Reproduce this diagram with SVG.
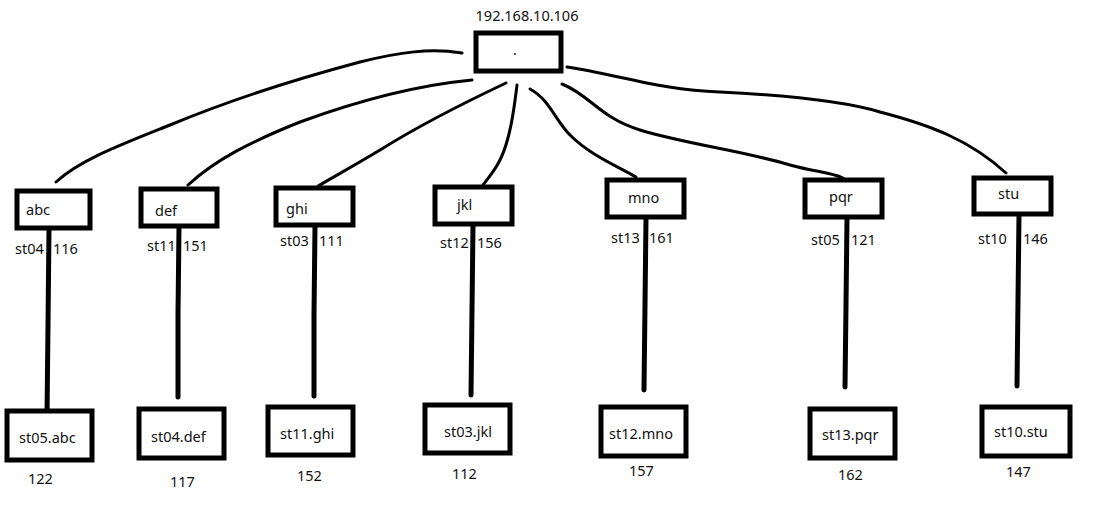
<svg xmlns="http://www.w3.org/2000/svg" width="1102" height="513" viewBox="0 0 1102 513">
<style>
.box{fill:#fff;stroke:#000;stroke-width:5}
.t{font-family:"Noto Sans","Open Sans",sans-serif;font-size:14.5px;fill:#111}
.c{fill:none;stroke:#000;stroke-width:3;stroke-linecap:round;stroke-linejoin:round}
.v{fill:none;stroke:#000;stroke-width:5;stroke-linecap:round}
</style>
<rect width="1102" height="513" fill="#fff"/>
<g id="connectors">
<path class="c" d="M462,53 C430,48 400,52 360,62 C300,78 230,100 170,125 C120,145 80,160 56,182"/>
<path class="c" d="M472,80 C420,85 360,100 300,122 C250,142 215,160 188,185"/>
<path class="c" d="M506,83 C470,100 420,125 380,150 C350,168 335,176 318,186"/>
<path class="c" d="M517,85 C514,110 510,140 500,160 C494,172 488,178 483,185"/>
<path class="c" d="M530,89 C550,100 555,120 570,135 C590,155 615,165 636,177"/>
<path class="c" d="M562,84 C590,95 600,118 640,130 C690,145 740,150 790,165 C815,172 830,172 843,178"/>
<path class="c" d="M567,67 C620,75 660,90 720,92 C780,95 840,100 880,112 C930,125 970,140 1006,173"/>
<path class="v" d="M49,229 L48,325 L47,416"/>
<path class="v" d="M179,227 L178,315 L178,397"/>
<path class="v" d="M315,226 L314,315 L314,396"/>
<path class="v" d="M473,225 L472,310 L471,395"/>
<path class="v" d="M646,218 L645,305 L644,390"/>
<path class="v" d="M847,218 L846,305 L845,387"/>
<path class="v" d="M1019,215 L1018,300 L1017,386"/>
</g>
<g id="root">
<text class="t" x="527" y="21" text-anchor="middle">192.168.10.106</text>
<rect class="box" x="476" y="33" width="85" height="38"/>
<text class="t" x="513" y="55">.</text>
</g>
<g id="abc"><rect class="box" x="17" y="191" width="73" height="37"/><text class="t" x="26" y="215">abc</text></g>
<g id="def"><rect class="box" x="141" y="189" width="76" height="37"/><text class="t" x="155" y="216">def</text></g>
<g id="ghi"><rect class="box" x="276" y="188" width="77" height="37"/><text class="t" x="286" y="214">ghi</text></g>
<g id="jkl"><rect class="box" x="435" y="187" width="77" height="37"/><text class="t" x="457" y="210">jkl</text></g>
<g id="mno"><rect class="box" x="607" y="180" width="77" height="37"/><text class="t" x="628" y="203">mno</text></g>
<g id="pqr"><rect class="box" x="805" y="180" width="77" height="37"/><text class="t" x="829" y="202">pqr</text></g>
<g id="stu"><rect class="box" x="974" y="178" width="77" height="36"/><text class="t" x="998" y="199">stu</text></g>
<g id="lbl-mid">
<text class="t" x="15" y="254">st04</text><text class="t" x="53" y="254">116</text>
<text class="t" x="147" y="251">st11</text><text class="t" x="183" y="251">151</text>
<text class="t" x="280" y="246">st03</text><text class="t" x="319" y="246">111</text>
<text class="t" x="440" y="248">st12</text><text class="t" x="477" y="248">156</text>
<text class="t" x="611" y="243">st13</text><text class="t" x="649" y="243">161</text>
<text class="t" x="811" y="245">st05</text><text class="t" x="851" y="245">121</text>
<text class="t" x="978" y="244">st10</text><text class="t" x="1023" y="244">146</text>
</g>
<g id="st05abc"><rect class="box" x="7" y="411" width="85" height="49"/><text class="t" x="19" y="443">st05.abc</text><text class="t" x="28" y="484">122</text></g>
<g id="st04def"><rect class="box" x="139" y="409" width="85" height="49"/><text class="t" x="151" y="442">st04.def</text><text class="t" x="170" y="487">117</text></g>
<g id="st11ghi"><rect class="box" x="268" y="407" width="85" height="48"/><text class="t" x="280" y="439">st11.ghi</text><text class="t" x="297" y="481">152</text></g>
<g id="st03jkl"><rect class="box" x="425" y="405" width="85" height="48"/><text class="t" x="444" y="437">st03.jkl</text><text class="t" x="452" y="479">112</text></g>
<g id="st12mno"><rect class="box" x="601" y="407" width="85" height="49"/><text class="t" x="609" y="439">st12.mno</text><text class="t" x="629" y="476">157</text></g>
<g id="st13pqr"><rect class="box" x="810" y="409" width="85" height="49"/><text class="t" x="822" y="440">st13.pqr</text><text class="t" x="838" y="480">162</text></g>
<g id="st10stu"><rect class="box" x="982" y="407" width="88" height="49"/><text class="t" x="994" y="437">st10.stu</text><text class="t" x="1006" y="477">147</text></g>
</svg>
